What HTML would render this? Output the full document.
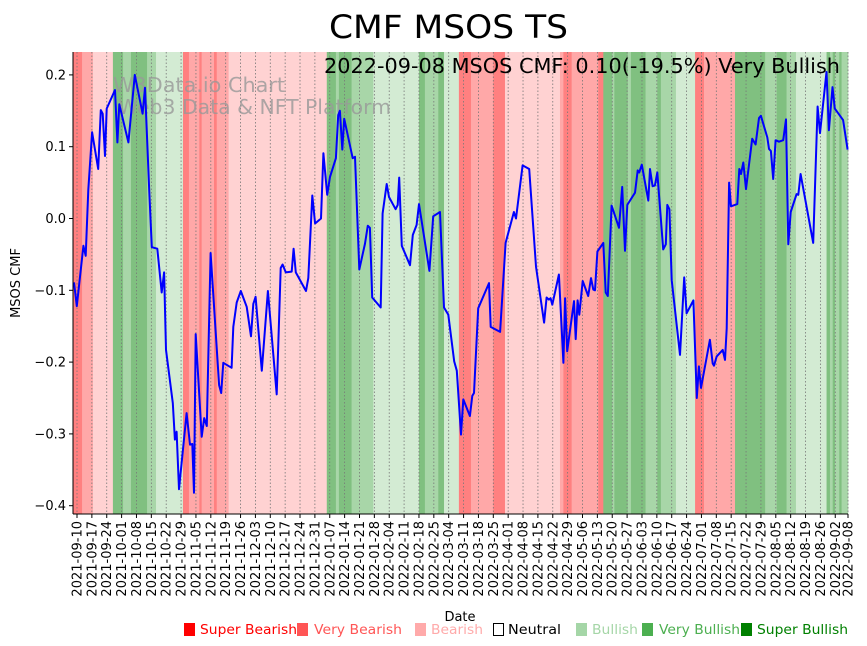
<!DOCTYPE html>
<html><head><meta charset="utf-8"><style>
html,body{margin:0;padding:0;background:#fff;}
svg{display:block;font-family:"DejaVu Sans","Liberation Sans",sans-serif;}
</style></head><body>
<svg id="chart" width="867" height="646" viewBox="0 0 867 646">
<text x="329" y="38" font-size="32" textLength="239" lengthAdjust="spacingAndGlyphs" fill="#000">CMF MSOS TS</text>
<g id="bands"></g>
<g id="grid"></g>
<g>
<text x="113" y="92" font-size="20" textLength="172" lengthAdjust="spacingAndGlyphs" fill="#999" fill-opacity="0.8">W3Data.io Chart</text>
<text x="118" y="114" font-size="20" textLength="273" lengthAdjust="spacingAndGlyphs" fill="#999" fill-opacity="0.8">Web3 Data &amp; NFT Platform</text>
</g>
<path id="line" fill="none" stroke="#0000ff" stroke-width="2" stroke-linejoin="round"/>
<text x="324" y="73" font-size="20" textLength="516" lengthAdjust="spacingAndGlyphs" fill="#000">2022-09-08 MSOS CMF: 0.10(-19.5%) Very Bullish</text>
<g id="yaxis"></g>
<g id="xaxis"></g>
<text transform="translate(20,283) rotate(-90)" font-size="13" text-anchor="middle">MSOS CMF</text>
<text x="460" y="621" font-size="13" text-anchor="middle">Date</text>
<g id="legend"></g>
</svg>
<script>
const dayValues=[-1.4,-0.1,3.0,4.1,5.3,7.1,10.0,11.2,12.1,13.2,14.0,17.9,19.0,19.9,24.2,27.2,30.9,32.0,34.0,35.2,37.8,39.9,41.0,41.9,45.1,46.1,46.9,48.0,51.6,53.2,54.3,55.1,55.9,58.7,59.9,61.1,62.9,66.9,67.9,68.9,72.8,73.6,75.2,77.1,79.9,81.9,83.0,84.1,87.0,89.9,94.0,95.9,96.8,98.3,101.1,102.0,103.0,107.8,108.9,110.8,112.1,114.9,116.0,117.8,119.1,121.9,123.0,123.8,124.9,125.8,129.8,130.9,132.9,135.6,136.9,137.9,139.0,143.0,143.9,145.8,146.9,150.0,151.0,151.7,152.9,156.8,158.1,159.9,161.0,165.9,167.7,170.9,172.8,174.8,177.6,178.8,180.8,181.9,185.0,186.1,186.9,188.9,194.0,194.8,199.2,201.8,205.7,206.7,209.8,212.9,216.1,219.9,221.1,222.2,223.0,223.8,226.9,229.0,229.8,230.8,234.0,234.8,235.7,236.5,238.1,240.7,242.0,243.1,243.9,245.0,247.8,248.9,249.9,251.7,255.2,256.7,258.0,259.1,262.7,264.0,264.7,265.9,269.0,269.8,271.0,272.1,273.2,276.0,277.2,277.9,278.9,280.0,283.9,285.9,287.0,290.2,291.8,292.8,293.8,298.0,299.3,299.9,301.2,304.0,305.1,305.9,307.0,307.9,310.9,311.8,312.6,313.7,315.0,317.9,319.5,321.1,322.0,325.0,325.8,326.7,327.8,328.9,330.5,332.5,333.8,334.9,336.0,338.8,339.6,340.7,346.6,348.7,349.8,352.9,354.0,355.7,356.8,360.7,362.8];
const cmfValues=[-0.089,-0.122,-0.038,-0.052,0.040,0.120,0.069,0.151,0.146,0.087,0.153,0.179,0.106,0.159,0.106,0.200,0.146,0.182,0.040,-0.040,-0.042,-0.103,-0.075,-0.183,-0.257,-0.308,-0.297,-0.377,-0.271,-0.315,-0.314,-0.382,-0.161,-0.304,-0.278,-0.289,-0.048,-0.232,-0.243,-0.201,-0.208,-0.151,-0.117,-0.101,-0.123,-0.164,-0.119,-0.109,-0.212,-0.101,-0.245,-0.069,-0.064,-0.075,-0.074,-0.042,-0.075,-0.101,-0.083,0.032,-0.007,0.000,0.091,0.033,0.058,0.084,0.144,0.150,0.096,0.139,0.084,0.086,-0.071,-0.035,-0.010,-0.013,-0.110,-0.124,0.007,0.048,0.030,0.013,0.019,0.057,-0.038,-0.065,-0.023,-0.009,0.020,-0.073,0.003,0.009,-0.124,-0.134,-0.199,-0.212,-0.301,-0.252,-0.275,-0.247,-0.243,-0.125,-0.090,-0.151,-0.158,-0.034,0.009,0.000,0.074,0.069,-0.067,-0.145,-0.110,-0.113,-0.111,-0.120,-0.078,-0.201,-0.111,-0.185,-0.115,-0.168,-0.114,-0.134,-0.087,-0.108,-0.083,-0.099,-0.100,-0.046,-0.034,-0.103,-0.108,0.018,-0.013,0.044,-0.045,0.019,0.036,0.067,0.064,0.075,0.025,0.069,0.045,0.046,0.064,-0.043,-0.036,0.019,0.013,-0.086,-0.190,-0.082,-0.132,-0.114,-0.250,-0.206,-0.236,-0.169,-0.202,-0.205,-0.192,-0.183,-0.197,-0.153,0.050,0.017,0.020,0.069,0.062,0.078,0.041,0.111,0.103,0.140,0.143,0.113,0.097,0.094,0.055,0.109,0.107,0.109,0.138,-0.036,0.009,0.034,0.033,0.062,-0.034,0.156,0.119,0.204,0.123,0.183,0.153,0.137,0.096];
const bandStarts=[-2,2.4,7.5,16.9,21.7,25.4,33,37.2,49.9,52.7,57.6,58.7,64.5,65.8,71.4,117.6,121.9,123.3,129.3,139.5,161,163.8,170.1,172.8,179.8,185.5,196,201.5,227.4,229,232.9,245.4,247.8,252,253,259.3,260.8,267.7,273.2,274.9,282,291,295.2,309.8,324,329.4,334.1,338.5,352.9,354.5,355.8,356.9,358.9,360];
const bandLevels=[-3,-2,-1,3,2,3,2,1,-3,-2,-3,-2,-3,-2,-1,3,2,3,2,1,3,2,3,1,-3,-2,-3,-1,-2,-3,-2,-3,3,2,3,2,3,2,3,2,1,-3,-2,3,2,3,2,1,3,2,3,2,3,2];
const bandEnd=364;
const yTicks=[0.2,0.1,0.0,-0.1,-0.2,-0.3,-0.4];
const yTickLabels=["0.2","0.1","0.0","\u22120.1","\u22120.2","\u22120.3","\u22120.4"];
const xTickLabels=["2021-09-10","2021-09-17","2021-09-24","2021-10-01","2021-10-08","2021-10-15","2021-10-22","2021-10-29","2021-11-05","2021-11-12","2021-11-19","2021-11-26","2021-12-03","2021-12-10","2021-12-17","2021-12-24","2021-12-31","2022-01-07","2022-01-14","2022-01-21","2022-01-28","2022-02-04","2022-02-11","2022-02-18","2022-02-25","2022-03-04","2022-03-11","2022-03-18","2022-03-25","2022-04-01","2022-04-08","2022-04-15","2022-04-22","2022-04-29","2022-05-06","2022-05-13","2022-05-20","2022-05-27","2022-06-03","2022-06-10","2022-06-17","2022-06-24","2022-07-01","2022-07-08","2022-07-15","2022-07-22","2022-07-29","2022-08-05","2022-08-12","2022-08-19","2022-08-26","2022-09-02","2022-09-08"];
const xTickDays=[0,7,14,21,28,35,42,49,56,63,70,77,84,91,98,105,112,119,126,133,140,147,154,161,168,175,182,189,196,203,210,217,224,231,238,245,252,259,266,273,280,287,294,301,308,315,322,329,336,343,350,357,363];
const legendLabels=["Super Bearish","Very Bearish","Bearish","Neutral","Bullish","Very Bullish","Super Bullish"];
const legendColors=["#ff0000","#ff5555","#ffaaaa","none","#a5d6a7","#4caf50","#008000"];

const NS="http://www.w3.org/2000/svg";
const L=73,R=848,T=52,B=514;
const x=d=>77+d*(848-77)/363;
const y=v=>218.5-v*718;
const bandColor={"-3":"#ff8080","-2":"#ffa8a8","-1":"#ffd2d2","1":"#d3ebd3","2":"#a8d6a8","3":"#80c080"};
function mk(tag,attrs,parent){const e=document.createElementNS(NS,tag);for(const k in attrs)e.setAttribute(k,attrs[k]);parent.appendChild(e);return e;}

const gb=document.getElementById('bands');
for(let i=0;i<bandStarts.length;i++){
  const s=Math.max(x(bandStarts[i]),L);
  const e=Math.min(i+1<bandStarts.length?x(bandStarts[i+1]):x(bandEnd),R);
  const r=mk('rect',{x:s,y:T,width:Math.max(0,e-s)+0.3,height:B-T,fill:bandColor[bandLevels[i]]},gb);
  
  
}
const gg=document.getElementById('grid');
const gx=document.getElementById('xaxis');
mk('line',{x1:L,y1:B,x2:R,y2:B,stroke:'#000','stroke-width':1},gx);
xTickDays.forEach((d,i)=>{
  const px=x(d);
  const gl=mk('line',{x1:px,y1:T,x2:px,y2:B,stroke:'#777','stroke-width':0.8,'stroke-dasharray':'1.5,2'},gg);
  
  
  mk('line',{x1:px,y1:B,x2:px,y2:B+4,stroke:'#000','stroke-width':1},gx);
  const t=mk('text',{transform:`translate(${px+4.5},${B+7}) rotate(-90)`,'font-size':13,'text-anchor':'end'},gx);
  t.textContent=xTickLabels[i];
  
  
});
const gy=document.getElementById('yaxis');
mk('line',{x1:L,y1:T,x2:L,y2:B,stroke:'#000','stroke-width':1},gy);
yTicks.forEach((v,i)=>{
  const py=y(v);
  mk('line',{x1:L-4,y1:py,x2:L,y2:py,stroke:'#000','stroke-width':1},gy);
  const t=mk('text',{x:L-7,y:py+4.5,'font-size':13,'text-anchor':'end'},gy);
  t.textContent=yTickLabels[i];
  
  
});
let dstr='';
dayValues.forEach((d,i)=>{dstr+=(i?'L':'M')+x(d).toFixed(1)+','+y(cmfValues[i]).toFixed(1);});
document.getElementById('line').setAttribute('d',dstr);

const lg=document.getElementById('legend');
const lx=[184,297,415,493,576,642,741];
const tx=[200,314,431,508,592,659,757];
const tw=[97,88,52,53,46,81,91];
legendLabels.forEach((lab,i)=>{
  const g=mk('g',{},lg);
  
  
  if(legendColors[i]==='none') mk('rect',{x:lx[i]+0.5,y:623.5,width:10,height:12,fill:'#fff',stroke:'#000','stroke-width':1},g);
  else mk('rect',{x:lx[i],y:623,width:11,height:13,fill:legendColors[i]},g);
  const t=mk('text',{x:tx[i],y:634,'font-size':13,textLength:tw[i],lengthAdjust:'spacingAndGlyphs',fill:legendColors[i]==='none'?'#000':legendColors[i]},g);
  t.textContent=lab;
});
</script>
</body></html>
